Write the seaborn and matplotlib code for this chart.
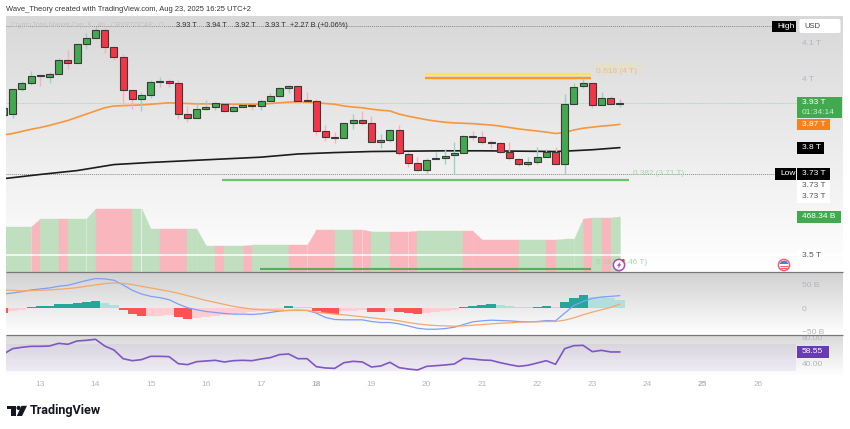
import numpy as np
import matplotlib as mpl
mpl.use('Agg')
import matplotlib.pyplot as plt
from matplotlib.patches import Circle, Polygon, Rectangle, FancyBboxPatch
import seaborn as sns

sns.set_theme(style="white")
plt.rcParams['font.family'] = ['Liberation Sans', 'DejaVu Sans']

## 4h candles, in T, first one is cut by the left edge
bars = np.arange(-1, 67)
opens = [3.895,3.897,3.970,3.987,4.008,4.004,4.011,4.050,4.044,4.097,4.113,4.135,4.087,4.059,3.965,3.940,3.951,
         3.988,3.991,3.986,3.899,3.888,3.913,3.919,3.928,3.906,3.919,3.924,3.921,3.936,3.949,3.971,3.977,3.938,
         3.936,3.850,3.834,3.830,3.873,3.882,3.873,3.819,3.826,3.854,3.786,3.759,3.741,3.770,3.774,3.781,3.787,
         3.837,3.832,3.820,3.816,3.791,3.771,3.756,3.761,3.777,3.791,3.757,3.926,3.977,3.986,3.924,3.943,3.928]
closes = [3.915,3.970,3.987,4.006,4.006,4.011,4.050,4.044,4.097,4.113,4.135,4.087,4.060,3.965,3.940,3.951,3.988,
          3.991,3.987,3.899,3.888,3.913,3.919,3.929,3.906,3.918,3.924,3.922,3.936,3.949,3.971,3.977,3.936,3.936,
          3.851,3.834,3.830,3.872,3.882,3.873,3.819,3.826,3.854,3.787,3.760,3.741,3.769,3.773,3.780,3.787,3.836,
          3.833,3.820,3.817,3.791,3.773,3.756,3.761,3.776,3.792,3.758,3.926,3.976,3.987,3.924,3.943,3.928,3.930]
highs = [3.921,3.970,3.992,4.020,4.010,4.018,4.058,4.081,4.097,4.128,4.145,4.141,4.087,4.068,3.965,3.960,3.994,
         4.004,3.997,3.996,3.921,3.933,3.938,3.933,3.930,3.924,3.930,3.928,3.940,3.957,3.974,3.980,3.977,3.961,
         3.941,3.866,3.848,3.872,3.897,3.907,3.894,3.841,3.856,3.867,3.791,3.777,3.774,3.790,3.799,3.818,3.838,
         3.849,3.850,3.826,3.820,3.819,3.775,3.777,3.804,3.799,3.804,3.955,3.987,3.999,3.986,3.961,3.949,3.940]
lows = [3.887,3.888,3.964,3.980,3.977,3.985,4.011,4.025,4.044,4.082,4.113,4.072,4.051,3.923,3.913,3.907,3.945,
        3.975,3.974,3.884,3.876,3.886,3.909,3.909,3.904,3.904,3.919,3.911,3.909,3.936,3.947,3.958,3.926,3.935,
        3.839,3.822,3.815,3.829,3.856,3.866,3.819,3.803,3.819,3.781,3.747,3.737,3.730,3.770,3.758,3.729,3.787,
        3.826,3.813,3.803,3.787,3.768,3.752,3.752,3.756,3.777,3.756,3.729,3.926,3.973,3.915,3.924,3.927,3.917]

ema = [3.839,3.843,3.849,3.855,3.860,3.866,3.873,3.880,3.889,3.898,3.907,3.916,3.921,3.922,3.923,3.924,3.926,
       3.928,3.930,3.929,3.928,3.927,3.927,3.927,3.927,3.926,3.926,3.926,3.926,3.928,3.930,3.932,3.933,3.932,
       3.930,3.928,3.926,3.921,3.918,3.916,3.912,3.909,3.907,3.898,3.892,3.887,3.882,3.878,3.875,3.873,3.872,
       3.871,3.869,3.867,3.864,3.860,3.856,3.853,3.850,3.847,3.843,3.846,3.853,3.858,3.861,3.864,3.866,3.869]
sma_bars = [-1,3,7,11,15,19,23,27,31,35,39,43,47,51,55,59,60,63,66]
sma = [3.715,3.727,3.738,3.755,3.761,3.766,3.771,3.776,3.785,3.789,3.792,3.793,3.794,3.794,3.793,3.792,3.793,3.797,3.803]

## volume overlay in B, colour is per segment between two bars
volume = [382,382,382,382,450,450,450,450,450,450,535,535,535,535,535,535,361,361,361,361,361,361,221,221,221,221,
          221,225,225,225,225,225,225,225,357,357,357,357,357,357,340,340,340,340,340,344,344,344,344,344,344,344,
          272,272,272,272,272,272,272,272,272,276,276,450,459,459,459,468]
vol_shade = "GGGPGGPGGGPPPPGGGPPPGGGPGGPGGGGPPPPPGGPPGGPPPGGGGGPPPPPPGGGPGGGPGPG"

## MACD pane, in B
hist = [-10.7,-6.4,-3.6,2.5,4,5,8,8,11,14,15,11,7,-5,-13,-16,-16,-16,-15,-20,-23,-22,-20,-17,-15,-13.5,-11,-8,-7,-6,
        -3.6,4,3,2,-7,-10.7,-12,-7,-6.5,-5,-8,-8,-6.5,-8,-11,-13,-11,-8.5,-6.5,-3.5,3,5,6.5,8,6.5,5,2,1.5,2,3.5,3,12,
        22,27,24,23,21,18]
hist_shade = "DLLDDDDDDDDLLDDDLLLDDLLLLLLLLLLDLLDDDLLLDDLDDDLLLLDDDDLLLLDDLDDDLLLL"
macd = [30,32.2,35,38.6,40.8,42.9,46.5,48.6,53.6,58.6,62.9,62.2,59.3,49.3,37.9,30,25,22.2,17.9,8.6,0.7,-3.6,-7.2,-9.3,
        -11.4,-12.9,-12.9,-13.6,-12.2,-9.3,-6.4,-5,-4.3,-5,-10.7,-20,-24.3,-25,-25,-25,-28.6,-30.7,-30.7,-33.6,-37.9,
        -42.9,-45,-45,-43.6,-40.8,-35,-29.3,-27.2,-25.7,-26.5,-27.2,-28.6,-29.3,-28.6,-26.5,-27.2,-10.7,5.7,14.3,20.7,
        23.6,25,26.5]
signal = [38.6,37.9,36.5,37.2,37.9,38.6,40,41.5,43.6,46.5,49.3,52.2,53.6,52.9,50,46.5,42.9,39.3,35.8,31.5,26.5,21.5,
          16.4,12.2,7.9,3.6,0.7,-2.1,-3.6,-4.3,-5,-5,-5,-5,-8.6,-10.7,-12.9,-14.3,-16.4,-18.6,-20.7,-22.9,-24.3,-27.2,
          -30.7,-33.6,-35.8,-37.2,-37.9,-38.6,-37.9,-36.5,-35,-33.6,-32.2,-31.5,-30,-29.3,-29.3,-28.6,-28.6,-25.7,-20.7,
          -14.3,-8.6,-3.6,1.4,8.6]

rsi = [55.4,63.6,65.7,67.2,67.2,67.7,71.8,70.3,75.4,76.4,78,67.7,61.6,48.2,45.1,46.7,51.8,51.8,51.3,40.5,39,43.6,44.6,
       45.7,43.1,45.1,45.7,45.1,47.7,49.8,54.4,55.4,48.2,48.2,35.9,33.9,33.3,42,44.1,43.1,35.4,36.9,42.6,34.4,32.3,
       30.8,36.4,37.4,38.5,40,48.7,47.7,46.2,45.6,42,39,36.4,38,41.5,45.1,39.5,63.6,68.2,68.7,59,61,58.5,58.55]

## levels: price, first bar, last bar
yellow_level = (4.013, 44.8, 62.9)
orange_level = (3.999, 44.8, 62.9)
green_level = (3.71, 22.8, 67)
green_low_level = (3.46, 26.9, 62.9)

day_labels = [13,14,15,16,17,18,19,20,21,22,23,24,25,26]
day_ticks = [3,9,15,21,27,33,39,45,51,57,63,69,75,81]
bold_days = [18, 25]

GREEN, RED = "#43a94f", "#f23645"
W, H = 850, 429
LEFT, RIGHT = 6, 843
FS = 6.0

fig = plt.figure(figsize=(W / 100, H / 100), dpi=100)

def pane(top, bottom):
    return fig.add_axes([LEFT / W, 1 - bottom / H, (RIGHT - LEFT) / W, (bottom - top) / H])

def gradient(ax, c_top, c_bottom):
    img = np.linspace(0, 1, 128)[:, None]
    cmap = mpl.colors.LinearSegmentedColormap.from_list("g", [c_top, c_bottom])
    ax.imshow(img, cmap=cmap, extent=[0, 1, 0, 1], transform=ax.transAxes, aspect="auto", zorder=0)

def axis_style(ax):
    ax.yaxis.tick_right()
    ax.tick_params(axis="y", length=0, pad=-29.5, labelsize=FS, labelcolor="#b4b4bc")
    ax.tick_params(axis="x", length=0)
    ax.set_xticks([])
    for s in ax.spines.values():
        s.set_visible(False)

xlim = ((LEFT - 12.7) / 9.2, (RIGHT - 12.7) / 9.2)

## main pane with the volume behind it
ax_vol = pane(16, 271.5)
gradient(ax_vol, "#d8d8d8", "#ffffff")
ax_vol.set_xlim(xlim)
ax_vol.set_ylim(0, 2172)
ax_vol.set_xticks([])
ax_vol.set_yticks([])
for s in ax_vol.spines.values():
    s.set_visible(False)
for i, shade in enumerate(vol_shade):
    ax_vol.fill_between(bars[i:i + 2], volume[i:i + 2], 0, linewidth=0.3, zorder=2,
                        color="#bfdfbf" if shade == "G" else "#f9b6bc")

ax = pane(16, 271.5)
ax.patch.set_alpha(0)
ax.set_xlim(xlim)
ax.set_ylim(3.452, 4.176)
axis_style(ax)
ax.set_yticks([4, 4.1], ["4 T", "4.1 T"])

ax.axhline(3.5, color="white", lw=1.1, zorder=1)
ax.axhline(3.93, color="#9ed09f", lw=0.6, ls=(0, (1, 1)), xmax=(797 - LEFT) / (RIGHT - LEFT), zorder=1)
ax.axhline(4.147, color="#8a8a8a", lw=0.7, ls=(0, (1, 1)), xmax=(773 - LEFT) / (RIGHT - LEFT), zorder=1)
ax.axhline(3.729, color="#8a8a8a", lw=0.7, ls=(0, (1, 1)), xmax=(775 - LEFT) / (RIGHT - LEFT), zorder=1)

sns.lineplot(x=bars, y=ema, ax=ax, color="#f9953a", linewidth=1.2, zorder=2)
sns.lineplot(x=sma_bars, y=sma, ax=ax, color="#1c1c1c", linewidth=1.2, zorder=2)

for (p, a, b), c, lw in [(yellow_level, "#f8e36a", 1.7), (orange_level, "#fb9a1c", 1.7),
                         (green_level, "#6cc36f", 1.6), (green_low_level, "#58ad5c", 1.5)]:
    ax.hlines(p, a, b, color=c, lw=lw, zorder=2)

## candles
o, c, hi, lo = map(np.array, (opens, closes, highs, lows))
up = c >= o
ax.vlines(bars[up], lo[up], hi[up], color="#9ad2c9", lw=1.0, zorder=3)
ax.vlines(bars[~up], lo[~up], hi[~up], color="#f7b3b9", lw=1.0, zorder=3)
ax.bar(bars, np.abs(c - o), bottom=np.minimum(o, c), width=0.76, zorder=4,
       color=[GREEN if u else RED for u in up], edgecolor="#3a3a3a", linewidth=0.8)

## MACD
ax_m = pane(271.5, 335)
gradient(ax_m, "#d0d0d0", "#ffffff")
ax_m.set_xlim(xlim)
ax_m.set_ylim(-57.3, 77.9)
axis_style(ax_m)
ax_m.set_yticks([-50, 0, 50], ["\u221250 B", "0", "50 B"])
colors = []
for v, s in zip(hist, hist_shade):
    if v >= 0:
        colors.append("#26a69a" if s == "D" else "#b2dfdb")
    else:
        colors.append("#ff5252" if s == "D" else "#ffcdd2")
ax_m.bar(bars, hist, width=1.0, color=colors, linewidth=0, zorder=2)
sns.lineplot(x=bars, y=macd, ax=ax_m, color="#7f9ff5", linewidth=0.9, zorder=3)
sns.lineplot(x=bars, y=signal, ax=ax_m, color="#f6a76a", linewidth=0.9, zorder=3)

## RSI
ax_r = pane(335, 376)
gradient(ax_r, "#dadada", "#ffffff")
ax_r.set_xlim(xlim)
ax_r.set_ylim(84.6 - 41 * 1.538, 84.6)
axis_style(ax_r)
ax_r.set_yticks([40, 80], ["40.00", "80.00"])
ax_r.axhspan(30, 70, xmax=(796 - LEFT) / (RIGHT - LEFT), color="#7e57c2", alpha=0.09, linewidth=0, zorder=1)
sns.lineplot(x=bars, y=rsi, ax=ax_r, color="#7e57c2", linewidth=1.2, zorder=3)
ax_r.set_xticks(day_ticks, day_labels)
ax_r.tick_params(axis="x", length=0, pad=3.5, labelsize=FS, labelcolor="#b4b4bc")
for lab, d in zip(ax_r.get_xticklabels(), day_labels):
    if d in bold_days:
        lab.set_fontweight("bold")

for a in (ax_vol, ax, ax_m, ax_r):
    a.set_xlabel("")
    a.set_ylabel("")

## overlay in pixels for the header, badges and logo
ov = fig.add_axes([0, 0, 1, 1])
ov.set_xlim(0, W)
ov.set_ylim(H, 0)
ov.axis("off")
ov.patch.set_alpha(0)
ov.hlines(271.5, LEFT, RIGHT, color="#787878", lw=0.9)
ov.hlines(335, LEFT, RIGHT, color="#787878", lw=0.9)

def label(x, y, s, color="#444444", size=FS, zorder=5, **kw):
    ov.text(x, y, s, color=color, fontsize=size, ha="left", va="center", zorder=zorder, **kw)

def badge(x0, x1, y0, y1, fc, s, color="white", size=FS):
    ov.add_patch(Rectangle((x0, y0), x1 - x0, y1 - y0, fc=fc, ec="none", zorder=3))
    label(x0 + 5, (y0 + y1) / 2, s, color=color, size=size)

label(6, 9.5, "Wave_Theory created with TradingView.com, Aug 23, 2025 16:25 UTC+2", size=5.45, color="#333333")
label(11, 25.5, "Crypto Total Market Cap, $ \u00b7 4h \u00b7 CRYPTOCAP \u00b7 O", color="#c2c2c2", size=4.9)
for x, s in [(176, "3.93 T"), (206, "3.94 T"), (235, "3.92 T"), (265, "3.93 T"), (290, "+2.27 B (+0.06%)")]:
    label(x, 25.5, s, color="#333333", size=5.3)

label(596, 66.5, "0.65 (4.01 T)", color="#f6e58a")
label(596, 71.5, "0.618 (4 T)", color="#f6bd72")
label(633, 173.5, "0.382 (3.71 T)", color="#a5d6a7", size=5.9)
label(596, 262.5, "0.382 (3.46 T)", color="#a5d6a7", size=5.9)

badge(772, 796, 20.5, 32, "#000000", "High")
ov.add_patch(FancyBboxPatch((800, 19.5), 40, 13, boxstyle="round,pad=0.5,rounding_size=2", fc="white", ec="none"))
label(804, 26, "USD", size=5.5)
badge(797, 842, 97, 118, GREEN, "")
label(802, 102.5, "3.93 T", color="white")
label(802, 112.5, "01:34:14", color="#cfe9cf")
badge(797, 830, 118.5, 130, "#f7821b", "3.87 T")
badge(797, 824, 142, 153.5, "#000000", "3.8 T")
badge(775, 796, 167.5, 179.5, "#000000", "Low")
badge(797, 830, 167.5, 179.5, "#000000", "3.73 T")
badge(797, 830, 179.5, 191, "#ffffff", "3.73 T", color="#555555")
badge(797, 830, 191, 203, "#ffffff", "3.73 T", color="#555555")
badge(797, 841, 211, 222.5, GREEN, "468.34 B")
badge(797, 824, 249.5, 261, "#ffffff", "3.5 T", color="#555555")
badge(797, 829, 346, 357.5, "#673ab7", "58.55")

## event icons
ov.add_patch(Circle((619, 265), 5.6, fc="white", ec="#ab47bc", lw=1.1, zorder=5))
ov.add_patch(Polygon([(620.5, 261.5), (616.8, 265.8), (618.8, 265.8), (617.8, 268.8), (621.3, 264.3), (619.4, 264.3)],
                     fc="#ab47bc", ec="none", zorder=6))
ov.add_patch(Circle((623, 260.5), 1.5, fc="#f23645", ec="none", zorder=6))
ov.add_patch(Circle((784, 265), 5.6, fc="white", ec="#f0616d", lw=1.1, zorder=5))
ov.add_patch(Polygon([(779.5, 264), (781, 261.5), (784.5, 260.5), (787, 261.5), (788.5, 264)], fc="#4a7fd6", ec="none", zorder=6))
ov.hlines([266, 268], 780, 788, color="#f0616d", lw=0.8, zorder=6)

## logo
ov.add_patch(Polygon([(7, 405.8), (16, 405.8), (16, 416), (11, 416), (11, 409.3), (7, 409.3)], fc="#131722", ec="none"))
ov.add_patch(Circle((18.6, 407.9), 2.1, fc="#131722", ec="none"))
ov.add_patch(Polygon([(21.5, 405.8), (27, 405.8), (22, 416), (16.8, 416)], fc="#131722", ec="none"))
ov.text(30, 410.8, "TradingView", color="#131722", fontsize=9.1, fontweight="bold", family="Roboto", ha="left", va="center")

fig.savefig("out.png", dpi=100)
